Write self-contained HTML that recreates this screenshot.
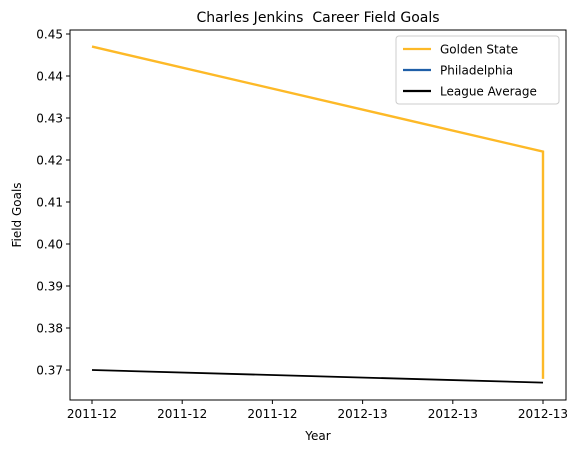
<!DOCTYPE html>
<html><head><meta charset="utf-8"><style>
body{margin:0;background:#fff;}
svg text{font-family:"DejaVu Sans","Liberation Sans",sans-serif;fill:#000;white-space:pre;}
</style></head><body>
<svg id="chart" width="582" height="453" xmlns="http://www.w3.org/2000/svg">
<rect width="582" height="453" fill="#fff"/>
<g id="plot"></g>
</svg>
<script>
const xTickLabels = ["2011-12","2011-12","2011-12","2012-13","2012-13","2012-13"];
const xTickVals = [0,0.2,0.4,0.6,0.8,1.0];
const yTicks = [0.37,0.38,0.39,0.40,0.41,0.42,0.43,0.44,0.45];
const gsX = [0,1,1];
const gsY = [0.447,0.422,0.3679];
const phiX = [1];
const phiY = [0.3679];
const lgX = [0,1];
const lgY = [0.370,0.367];

const L=70,R=566,T=30,B=400;
const x0=92,x1=543;
function sx(v){return x0+(x1-x0)*v;}
function sy(v){return 34+(0.45-v)*4200;}
const ns="http://www.w3.org/2000/svg";
const g=document.getElementById('plot');
function mk(tag,attrs,parent){const e=document.createElementNS(ns,tag);for(const k in attrs)e.setAttribute(k,attrs[k]);(parent||g).appendChild(e);return e;}
function line(xs,ys,color,w,name){
  const p=mk('polyline',{points:xs.map((v,i)=>sx(v)+','+sy(ys[i])).join(' '),fill:'none',stroke:color,'stroke-width':w});
  
  
}
line(phiX.concat(phiX),phiY.concat(phiY),'#1f5fa8',2,'philadelphia-line');
line(gsX,gsY,'#fdb927',2.4,'golden-state-line');
line(lgX,lgY,'#000',1.8,'league-average-line');
const frame=mk('rect',{x:L,y:T,width:R-L,height:B-T,fill:'none',stroke:'#000','stroke-width':1});


xTickVals.forEach((v,i)=>{
  const tk=mk('line',{x1:sx(v),x2:sx(v),y1:B,y2:B+4,stroke:'#000'});
  
  
  const t=mk('text',{x:sx(v),y:B+18,'text-anchor':'middle','font-size':12});
  t.textContent=xTickLabels[i];
  
  
});
yTicks.forEach(v=>{
  const tk=mk('line',{x1:L-4,x2:L,y1:sy(v),y2:sy(v),stroke:'#000'});
  
  
  const t=mk('text',{x:L-7,y:sy(v)+4.5,'text-anchor':'end','font-size':12});
  t.textContent=v.toFixed(2);
  
  
});
const title=mk('text',{x:(L+R)/2,y:22,'text-anchor':'middle','font-size':14});
title.textContent='Charles Jenkins\u00a0 Career Field Goals';


const xl=mk('text',{x:(L+R)/2,y:440,'text-anchor':'middle','font-size':12});
xl.textContent='Year';


const yl=mk('text',{x:21,y:(T+B)/2,'text-anchor':'middle','font-size':12,transform:'rotate(-90 21 '+((T+B)/2)+')'});
yl.textContent='Field Goals';


const lg=mk('g',{});


mk('rect',{x:396,y:36,width:163,height:68,rx:3,fill:'#fff',stroke:'#ccc'},lg);
[['Golden State','#fdb927'],['Philadelphia','#1f5fa8'],['League Average','#000']].forEach((e,i)=>{
  const y=49+i*21;
  const s=mk('line',{x1:403,x2:431,y1:y,y2:y,stroke:e[1],'stroke-width':2.2},lg);
  
  
  const t=mk('text',{x:440,y:y+4.5,'font-size':12},lg);
  t.textContent=e[0];
  
  
});
</script>
</body></html>
